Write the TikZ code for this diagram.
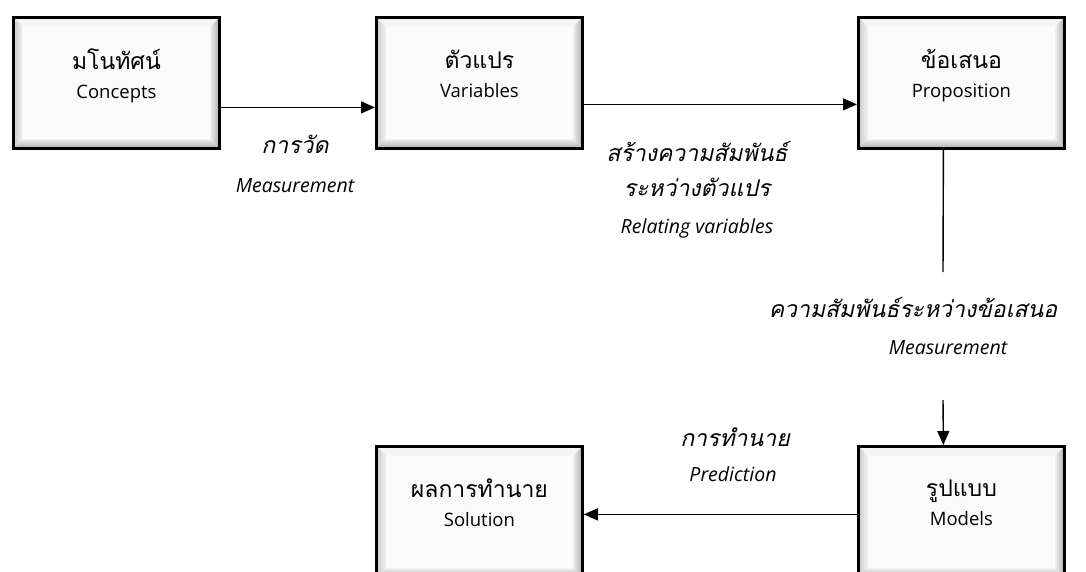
\documentclass[tikz,border=0pt]{standalone}
\usepackage{fontspec}
\setmainfont{Open Sans}
\newfontfamily\thai[Script=Thai]{Loma}
\newfontfamily\thaiit[Script=Thai,FakeSlant=0.22]{Loma}
\usetikzlibrary{arrows.meta,calc}
\tikzset{
  bevelbox/.style={draw=black, line width=2.8pt, fill=gray!3, minimum width=206pt,
    minimum height=131pt, inner sep=0pt, align=center, anchor=north west,
    text depth=19pt, font=\fontsize{18.5}{24}\selectfont,
    path picture={
      \fill[gray!8] let \p1=(path picture bounding box.south west), \p2=(path picture bounding box.north east) in
        (\x1,\y2) -- (\x2,\y2) -- (\x2-9pt,\y2-9pt) -- (\x1+9pt,\y2-9pt) -- cycle;
      \shade[left color=gray!40, right color=gray!12] let \p1=(path picture bounding box.south west), \p2=(path picture bounding box.north east) in
        (\x1,\y1) -- (\x1,\y2) -- (\x1+9pt,\y2-9pt) -- (\x1+9pt,\y1+9pt) -- cycle;
      \shade[left color=gray!15, right color=gray!65] let \p1=(path picture bounding box.south west), \p2=(path picture bounding box.north east) in
        (\x2,\y1) -- (\x2,\y2) -- (\x2-9pt,\y2-9pt) -- (\x2-9pt,\y1+9pt) -- cycle;
      \shade[top color=gray!15, bottom color=gray!65] let \p1=(path picture bounding box.south west), \p2=(path picture bounding box.north east) in
        (\x1,\y1) -- (\x2,\y1) -- (\x2-9pt,\y1+9pt) -- (\x1+9pt,\y1+9pt) -- cycle;
    }},
  conn/.style={line width=1.4pt, -{Triangle[length=14pt,width=12pt]}},
  plainline/.style={line width=1.4pt},
  thailabel/.style={font=\thaiit\fontsize{23}{26}\selectfont, inner sep=0pt},
  enlabel/.style={font=\itshape\fontsize{19.5}{22}\selectfont, inner sep=0pt},
}
\newcommand{\thbox}[1]{{\thai\fontsize{23}{26}\selectfont #1}}
\begin{document}
\begin{tikzpicture}[x=1pt,y=-1pt]
\useasboundingbox (0,0) rectangle (1086,572);
\clip (0,0) rectangle (1086,572);
\node[bevelbox] (concepts) at (12,16) {\thbox{มโนทัศน์}\\[5pt]Concepts};
\node[bevelbox] (variables) at (375,16) {\thbox{ตัวแปร}\\[5pt]Variables};
\node[bevelbox] (proposition) at (857,16) {\thbox{ข้อเสนอ}\\[5pt]Proposition};
\node[bevelbox] (solution) at (375,445) {\thbox{ผลการทำนาย}\\[5pt]Solution};
\node[bevelbox] (models) at (857,445) {\thbox{รูปแบบ}\\[5pt]Models};

\draw[conn] ([yshift=-24.5pt]concepts.east) -- ([yshift=-24.5pt]variables.west);
\draw[conn] ([yshift=-21.5pt]variables.east) -- ([yshift=-21.5pt]proposition.west);
\coordinate (gapA) at (943,272);
\coordinate (gapB) at (943,400);
\draw[plainline] ([xshift=-18pt]proposition.south) -- (gapA);
\draw[conn] (gapB) -- ([xshift=-18pt]models.north);
\draw[conn] ([yshift=-2.5pt]models.west) -- ([yshift=-2.5pt]solution.east);

\node[thailabel] (l1a) at (295,144) {การวัด};
\node[enlabel] (l1b) at (295,186) {Measurement};
\node[thailabel] (l2a) at (697,151) {สร้างความสัมพันธ์};
\node[thailabel] (l2b) at (697,187) {ระหว่างตัวแปร};
\node[enlabel] (l2c) at (697,228) {Relating variables};
\node[thailabel] (l3a) at (913,307) {ความสัมพันธ์ระหว่างข้อเสนอ};
\node[enlabel] (l3b) at (948,348) {Measurement};
\node[thailabel] (l4a) at (735,437) {การทำนาย};
\node[enlabel] (l4b) at (733,474) {Prediction};
\end{tikzpicture}
\end{document}
